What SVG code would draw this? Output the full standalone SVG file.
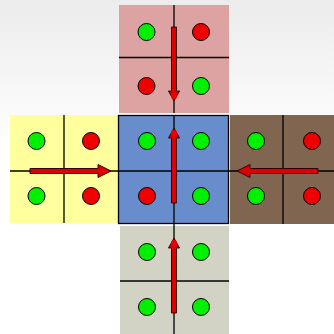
<svg xmlns="http://www.w3.org/2000/svg" width="334" height="334" viewBox="0 0 334 334">
  <defs>
    <linearGradient id="bg" x1="0" y1="0" x2="0" y2="1">
      <stop offset="0" stop-color="#ececec"/>
      <stop offset="0.45" stop-color="#ffffff"/>
    </linearGradient>
  </defs>
  <style>
    .grid { stroke: #000; stroke-width: 1.3; fill: none; }
    .g { fill: #00f000; stroke: #000; stroke-width: 1; }
    .r { fill: #f00000; stroke: #000; stroke-width: 1; }
    .arrow { fill: #dd0000; stroke: #3a0000; stroke-width: 1; }
    .tip { fill: #ee0000; stroke: none; }
  </style>
  <rect x="0" y="0" width="334" height="334" fill="url(#bg)"/>

  <g id="pink">
    <rect x="119" y="5" width="110" height="108" fill="#dda2a2"/>
    <line class="grid" x1="119" y1="57.5" x2="229" y2="57.5"/>
    <line class="grid" x1="174" y1="5" x2="174" y2="113"/>
    <circle class="g" cx="146.5" cy="32" r="8.5"/>
    <circle class="r" cx="201" cy="32" r="8.5"/>
    <circle class="r" cx="146.5" cy="86" r="8.5"/>
    <circle class="g" cx="201" cy="86" r="8.5"/>
  </g>

  <g id="yellow">
    <rect x="10" y="115" width="108" height="108" fill="#ffff9e"/>
    <line class="grid" x1="64" y1="115" x2="64" y2="223"/>
    <line class="grid" x1="10" y1="171" x2="118" y2="171"/>
    <circle class="g" cx="36.5" cy="141" r="8.5"/>
    <circle class="r" cx="91" cy="141" r="8.5"/>
    <circle class="g" cx="36.5" cy="196" r="8.5"/>
    <circle class="r" cx="91" cy="196" r="8.5"/>
  </g>

  <g id="blue">
    <rect x="118.5" y="115.5" width="110" height="108" fill="#698ccc" stroke="#000" stroke-width="1.3"/>
    <line class="grid" x1="118" y1="171" x2="229" y2="171"/>
    <line class="grid" x1="174" y1="115" x2="174" y2="224"/>
    <circle class="g" cx="147" cy="141" r="8.5"/>
    <circle class="g" cx="201" cy="141" r="8.5"/>
    <circle class="r" cx="147" cy="196" r="8.5"/>
    <circle class="g" cx="201" cy="196" r="8.5"/>
  </g>

  <g id="brown">
    <rect x="230" y="115" width="104" height="109" fill="#806550"/>
    <line class="grid" x1="283" y1="115" x2="283" y2="224"/>
    <line class="grid" x1="229" y1="171" x2="334" y2="171"/>
    <circle class="g" cx="256" cy="141" r="8.5"/>
    <circle class="r" cx="312" cy="141" r="8.5"/>
    <circle class="g" cx="256" cy="196" r="8.5"/>
    <circle class="r" cx="312" cy="196" r="8.5"/>
  </g>

  <g id="gray">
    <rect x="120" y="226" width="109" height="108" fill="#d3d3c5"/>
    <line class="grid" x1="120" y1="281" x2="229" y2="281"/>
    <line class="grid" x1="174" y1="224" x2="174" y2="334"/>
    <circle class="g" cx="147" cy="252" r="8.5"/>
    <circle class="g" cx="201" cy="252" r="8.5"/>
    <circle class="g" cx="147" cy="307" r="8.5"/>
    <circle class="g" cx="201" cy="307" r="8.5"/>
  </g>

  <g id="connectors">
    <!-- pink: down -->
    <path class="arrow" d="M171.5,27 H176.5 V91 H179.5 L174,101 L168.5,91 H171.5 Z"/>
    <circle class="tip" cx="174" cy="96" r="3"/>
    <!-- yellow: right -->
    <path class="arrow" d="M30,168.5 H98 V164.5 L111,171 L98,177.5 V173.5 H30 Z"/>
    <!-- blue: up -->
    <path class="arrow" d="M171.5,203 H176.5 V138 H179.5 L174,128 L168.5,138 H171.5 Z"/>
    <circle class="tip" cx="174" cy="133" r="3"/>
    <!-- brown: left -->
    <path class="arrow" d="M318,168.5 H250 V164.5 L237,171 L250,177.5 V173.5 H318 Z"/>
    <!-- gray: up -->
    <path class="arrow" d="M171.5,313 H176.5 V248 H179.5 L174,238 L168.5,248 H171.5 Z"/>
    <circle class="tip" cx="174" cy="243" r="3"/>
  </g>
</svg>
